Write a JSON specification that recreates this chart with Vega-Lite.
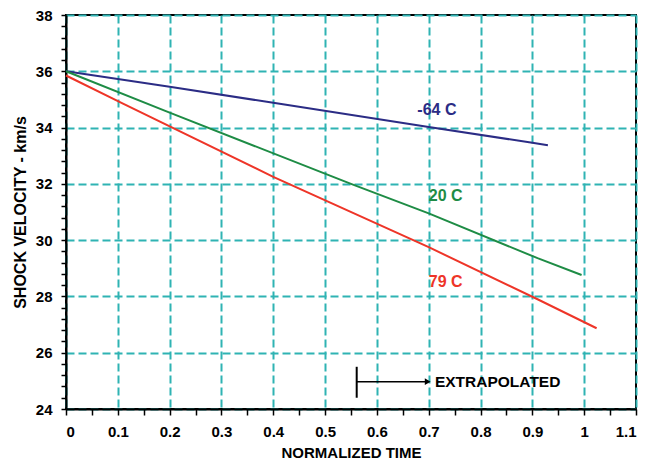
{
  "$schema": "https://vega.github.io/schema/vega-lite/v6.json",
  "width": 570,
  "height": 394,
  "autosize": {"type": "none"},
  "padding": {"left": 66, "top": 15, "right": 9, "bottom": 54},
  "background": "white",
  "config": {
    "font": "Liberation Sans",
    "view": {"stroke": "black", "strokeWidth": 2},
    "axis": {
      "domainColor": "black",
      "domainWidth": 2,
      "tickColor": "black",
      "tickWidth": 1.5,
      "tickSize": 5,
      "labelFont": "Liberation Sans",
      "labelFontWeight": "bold",
      "labelFontSize": 15,
      "labelColor": "black",
      "titleFont": "Liberation Sans",
      "titleFontWeight": "bold",
      "titleColor": "black",
      "gridColor": "#2fb3b3",
      "gridWidth": 2,
      "gridDash": [8, 4],
      "gridOpacity": 1
    }
  },
  "datasets": {
    "curves": [
      {"t": 0.0, "v": 36.0, "temp": "-64 C"},
      {"t": 0.2, "v": 35.45, "temp": "-64 C"},
      {"t": 0.4, "v": 34.88, "temp": "-64 C"},
      {"t": 0.7, "v": 34.02, "temp": "-64 C"},
      {"t": 0.9, "v": 33.46, "temp": "-64 C"},
      {"t": 0.93, "v": 33.37, "temp": "-64 C"},
      {"t": 0.0, "v": 36.0, "temp": "20 C"},
      {"t": 0.2, "v": 34.53, "temp": "20 C"},
      {"t": 0.55, "v": 32.0, "temp": "20 C"},
      {"t": 0.7, "v": 30.95, "temp": "20 C"},
      {"t": 0.91, "v": 29.36, "temp": "20 C"},
      {"t": 0.995, "v": 28.76, "temp": "20 C"},
      {"t": 0.0, "v": 35.85, "temp": "79 C"},
      {"t": 0.11, "v": 34.85, "temp": "79 C"},
      {"t": 0.4, "v": 32.25, "temp": "79 C"},
      {"t": 0.7, "v": 29.75, "temp": "79 C"},
      {"t": 0.91, "v": 27.9, "temp": "79 C"},
      {"t": 1.024, "v": 26.87, "temp": "79 C"}
    ],
    "curveLabels": [
      {"t": 0.678, "v": 34.62, "temp": "-64 C"},
      {"t": 0.7, "v": 31.58, "temp": "20 C"},
      {"t": 0.7, "v": 28.53, "temp": "79 C"}
    ]
  },
  "layer": [
    {
      "data": {"name": "curves"},
      "mark": {"type": "line", "strokeWidth": 2},
      "encoding": {
        "x": {
          "field": "t",
          "type": "quantitative",
          "scale": {"domain": [0, 1.1], "nice": false, "zero": false},
          "axis": {
            "orient": "bottom",
            "title": "NORMALIZED TIME",
            "titleFontSize": 15,
            "titlePadding": 6,
            "values": [0, 0.1, 0.2, 0.3, 0.4, 0.5, 0.6, 0.7, 0.8, 0.9, 1, 1.1],
            "format": "~g",
            "labelPadding": 9,
            "tickSize": 6,
            "grid": true
          }
        },
        "y": {
          "field": "v",
          "type": "quantitative",
          "scale": {"domain": [24, 38], "nice": false, "zero": false},
          "axis": {
            "orient": "left",
            "title": "SHOCK VELOCITY - km/s",
            "titleFontSize": 16,
            "titlePadding": 7,
            "values": [24, 26, 28, 30, 32, 34, 36, 38],
            "format": "d",
            "labelPadding": 9,
            "grid": true
          }
        },
        "color": {
          "field": "temp",
          "type": "nominal",
          "scale": {"domain": ["-64 C", "20 C", "79 C"], "range": ["#2b2c85", "#1e8c45", "#ee3528"]},
          "legend": null
        },
        "detail": {"field": "temp"}
      }
    },
    {
      "data": {"name": "curves"},
      "mark": {"type": "point", "opacity": 0},
      "encoding": {
        "x": {
          "field": "t",
          "type": "quantitative",
          "axis": {
            "orient": "bottom",
            "title": null,
            "labels": false,
            "grid": false,
            "domain": false,
            "tickSize": 6,
            "values": [0.05, 0.15, 0.25, 0.35, 0.45, 0.55, 0.65, 0.75, 0.85, 0.95, 1.05]
          }
        },
        "y": {
          "field": "v",
          "type": "quantitative",
          "axis": {
            "orient": "left",
            "title": null,
            "labels": false,
            "grid": false,
            "domain": false,
            "values": [24.4, 24.8, 25.2, 25.6, 26.4, 26.8, 27.2, 27.6, 28.4, 28.8, 29.2, 29.6, 30.4, 30.8, 31.2, 31.6, 32.4, 32.8, 33.2, 33.6, 34.4, 34.8, 35.2, 35.6, 36.4, 36.8, 37.2, 37.6]
          }
        }
      }
    },
    {
      "data": {"name": "curveLabels"},
      "mark": {"type": "text", "align": "left", "baseline": "middle", "font": "Liberation Sans", "fontWeight": "bold", "fontSize": 16},
      "encoding": {
        "x": {"field": "t", "type": "quantitative", "axis": null},
        "y": {"field": "v", "type": "quantitative", "axis": null},
        "text": {"field": "temp"},
        "color": {"field": "temp", "type": "nominal", "legend": null}
      }
    },
    {
      "data": {"values": [{"t": 0.561, "v": 24.4, "v2": 25.5}]},
      "mark": {"type": "rule", "color": "black", "strokeWidth": 2},
      "encoding": {
        "x": {"field": "t", "type": "quantitative", "axis": null},
        "y": {"field": "v", "type": "quantitative", "axis": null},
        "y2": {"field": "v2"}
      }
    },
    {
      "data": {"values": [{"t": 0.561, "t2": 0.693, "v": 24.97}]},
      "mark": {"type": "rule", "color": "black", "strokeWidth": 1.5},
      "encoding": {
        "x": {"field": "t", "type": "quantitative", "axis": null},
        "x2": {"field": "t2"},
        "y": {"field": "v", "type": "quantitative", "axis": null}
      }
    },
    {
      "data": {"values": [{"t": 0.698, "v": 24.97}]},
      "mark": {"type": "point", "shape": "triangle-right", "filled": true, "color": "black", "opacity": 1, "size": 45},
      "encoding": {
        "x": {"field": "t", "type": "quantitative", "axis": null},
        "y": {"field": "v", "type": "quantitative", "axis": null}
      }
    },
    {
      "data": {"values": [{"t": 0.712, "v": 24.97, "note": "EXTRAPOLATED"}]},
      "mark": {"type": "text", "align": "left", "baseline": "middle", "font": "Liberation Sans", "fontWeight": "bold", "fontSize": 15.5, "color": "black"},
      "encoding": {
        "x": {"field": "t", "type": "quantitative", "axis": null},
        "y": {"field": "v", "type": "quantitative", "axis": null},
        "text": {"field": "note"}
      }
    }
  ],
  "resolve": {"axis": {"x": "independent", "y": "independent"}}
}
